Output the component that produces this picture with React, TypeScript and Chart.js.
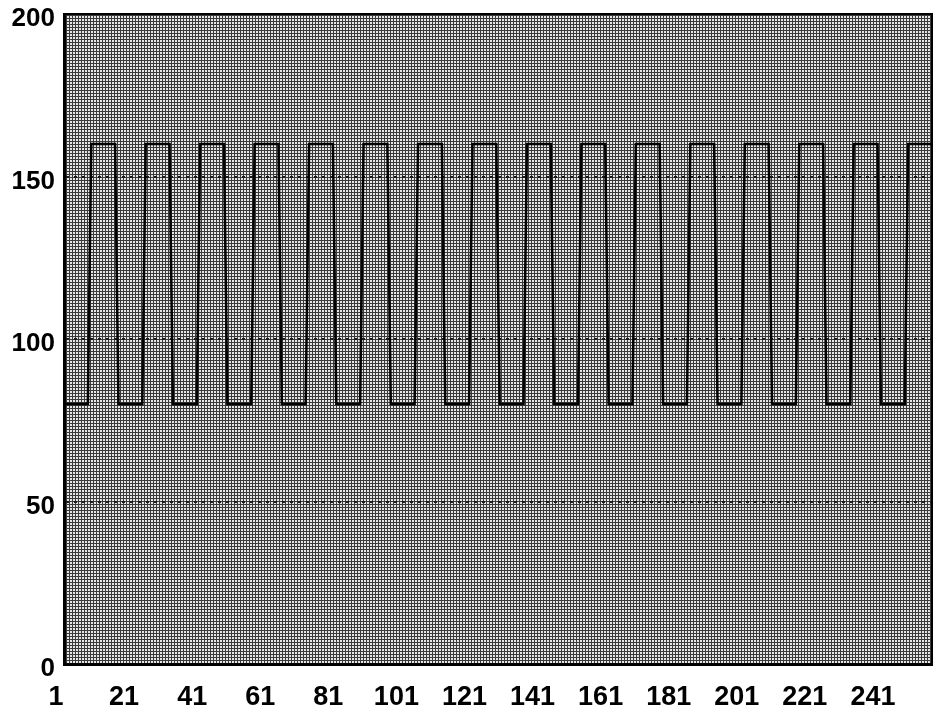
import { useEffect, useRef } from "react";
import { Chart, registerables } from "chart.js";

Chart.register(...registerables);

// Signal samples (one per index 1..256)
const signal: number[] = [
  80, 80, 80, 80, 80, 80, 80, 80, 160, 160, 160, 160, 160, 160, 160, 160,
  80, 80, 80, 80, 80, 80, 80, 80, 160, 160, 160, 160, 160, 160, 160, 160,
  80, 80, 80, 80, 80, 80, 80, 80, 160, 160, 160, 160, 160, 160, 160, 160,
  80, 80, 80, 80, 80, 80, 80, 80, 160, 160, 160, 160, 160, 160, 160, 160,
  80, 80, 80, 80, 80, 80, 80, 80, 160, 160, 160, 160, 160, 160, 160, 160,
  80, 80, 80, 80, 80, 80, 80, 80, 160, 160, 160, 160, 160, 160, 160, 160,
  80, 80, 80, 80, 80, 80, 80, 80, 160, 160, 160, 160, 160, 160, 160, 160,
  80, 80, 80, 80, 80, 80, 80, 80, 160, 160, 160, 160, 160, 160, 160, 160,
  80, 80, 80, 80, 80, 80, 80, 80, 160, 160, 160, 160, 160, 160, 160, 160,
  80, 80, 80, 80, 80, 80, 80, 80, 160, 160, 160, 160, 160, 160, 160, 160,
  80, 80, 80, 80, 80, 80, 80, 80, 160, 160, 160, 160, 160, 160, 160, 160,
  80, 80, 80, 80, 80, 80, 80, 80, 160, 160, 160, 160, 160, 160, 160, 160,
  80, 80, 80, 80, 80, 80, 80, 80, 160, 160, 160, 160, 160, 160, 160, 160,
  80, 80, 80, 80, 80, 80, 80, 80, 160, 160, 160, 160, 160, 160, 160, 160,
  80, 80, 80, 80, 80, 80, 80, 80, 160, 160, 160, 160, 160, 160, 160, 160,
  80, 80, 80, 80, 80, 80, 80, 80, 160, 160, 160, 160, 160, 160, 160, 160,
];

const xTickValues: number[] = [1, 21, 41, 61, 81, 101, 121, 141, 161, 181, 201, 221, 241];
const yTickValues: number[] = [0, 50, 100, 150, 200];
const dottedGridValues: number[] = [50, 100, 150];

function makePattern(ctx: CanvasRenderingContext2D): CanvasPattern | string {
  const c = document.createElement("canvas");
  c.width = 3;
  c.height = 3;
  const p = c.getContext("2d");
  if (!p) return "#9a9a9a";
  p.fillStyle = "#e6e6e6";
  p.fillRect(0, 0, 3, 3);
  p.fillStyle = "#3a3a3a";
  p.fillRect(0, 0, 3, 1);
  p.fillRect(0, 0, 1, 3);
  return ctx.createPattern(c, "repeat") || "#9a9a9a";
}

const framePlugin = {
  id: "frame",
  beforeDraw(chart: any) {
    const { ctx, chartArea } = chart;
    const { left, top, width, height } = chartArea;
    ctx.save();
    ctx.fillStyle = makePattern(ctx);
    ctx.fillRect(left, top, width, height);
    ctx.restore();
  },
  afterDraw(chart: any) {
    const { ctx, chartArea } = chart;
    const { left, top, right, bottom } = chartArea;
    ctx.save();
    ctx.strokeStyle = "#000";
    ctx.lineWidth = 2;
    ctx.beginPath();
    ctx.moveTo(left, top);
    ctx.lineTo(right, top);
    ctx.lineTo(right, bottom);
    ctx.stroke();
    ctx.restore();
  },
};

export default function App() {
  const canvasRef = useRef<HTMLCanvasElement | null>(null);

  useEffect(() => {
    document.body.style.margin = "0";
    const canvas = canvasRef.current;
    if (!canvas) return;
    const chart = new Chart(canvas, {
      type: "line",
      data: {
        datasets: [
          {
            data: signal.map((v, i) => ({ x: i + 1, y: v })),
            borderColor: "#000",
            borderWidth: 2.5,
            pointRadius: 0,
            fill: false,
            tension: 0,
          },
        ],
      },
      options: {
        responsive: false,
        animation: false,
        layout: { padding: { top: 14, right: 2, left: 0, bottom: 0 } },
        plugins: {
          legend: { display: false },
          tooltip: { enabled: false },
        },
        scales: {
          x: {
            type: "linear",
            min: 1,
            max: 256,
            afterBuildTicks: (axis: any) => {
              axis.ticks = xTickValues.map((v) => ({ value: v }));
            },
            afterFit: (axis: any) => {
              axis.height = 50;
              axis.paddingLeft = 0;
              axis.paddingRight = 0;
            },
            grid: { display: false, drawTicks: false },
            border: { display: true, color: "#000", width: 3 },
            ticks: {
              autoSkip: false,
              maxRotation: 0,
              padding: 17,
              labelOffset: -8,
              color: "#000",
              font: { family: "'Liberation Sans', Arial, sans-serif", size: 27, weight: "bold", lineHeight: 1.2 },
              callback: (v: any) => String(v),
            },
          },
          y: {
            type: "linear",
            min: 0,
            max: 200,
            afterBuildTicks: (axis: any) => {
              axis.ticks = yTickValues.map((v) => ({ value: v }));
            },
            afterFit: (axis: any) => {
              axis.width = 64;
              axis.paddingTop = 0;
              axis.paddingBottom = 0;
            },
            grid: {
              drawTicks: false,
              lineWidth: 2,
              color: (ctx: any) =>
                dottedGridValues.includes(ctx.tick?.value) ? "#1a1a1a" : "rgba(0,0,0,0)",
            },
            border: { display: true, color: "#000", width: 3, dash: [3, 5] },
            ticks: {
              padding: 9,
              labelOffset: 5,
              color: "#000",
              font: { family: "'Liberation Sans', Arial, sans-serif", size: 26, weight: "bold" },
              callback: (v: any) => String(v),
            },
          },
        },
      },
      plugins: [framePlugin],
    });
    return () => chart.destroy();
  }, []);

  return (
    <div style={{ position: "absolute", left: 0, top: 0, width: 934, height: 714 }}>
      <canvas ref={canvasRef} width={934} height={714} />
    </div>
  );
}
